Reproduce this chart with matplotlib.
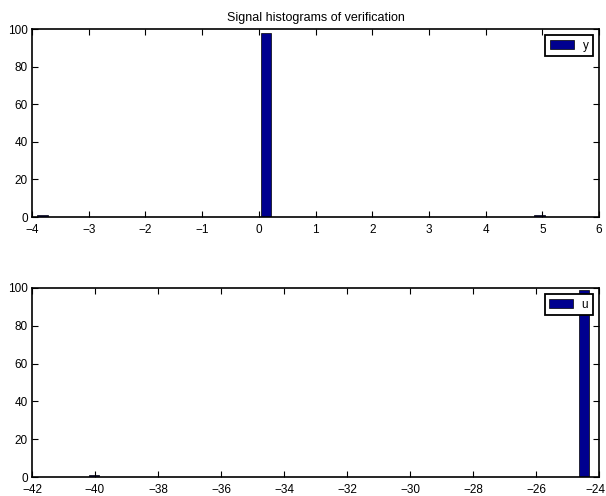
import matplotlib
matplotlib.use("Agg")
import matplotlib.pyplot as plt
import matplotlib.transforms as mtransforms

# ---- data ----
y_bin_centers = [-3.815, 0.121, 4.95]
y_counts = [1, 98, 1]
y_bin_width = 0.179

u_bin_centers = [-40.02, -24.49]
u_counts = [1, 99]
u_bin_width = 0.317

y_xticks = [-4, -3, -2, -1, 0, 1, 2, 3, 4, 5, 6]
u_xticks = [-42, -40, -38, -36, -34, -32, -30, -28, -26, -24]
yticks = [0, 20, 40, 60, 80, 100]

title_text = "Signal histograms of verification"

plt.rcParams['font.family'] = ['Liberation Sans', 'DejaVu Sans']
plt.rcParams['axes.unicode_minus'] = True

W, H = 606, 496
fig = plt.figure(figsize=(W / 100, H / 100), dpi=100)

bar_color = '#00008F'
FS = 8.5


def style(ax, xlim, xticks):
    ax.set_xlim(*xlim)
    ax.set_ylim(0, 100)
    ax.set_xticks(xticks)
    ax.set_yticks(yticks)
    ax.tick_params(direction='in', length=4.5, width=0.8, top=True, right=True,
                   labelsize=FS, pad=5)
    ax.tick_params(axis='y', pad=3)
    for s in ax.spines.values():
        s.set_linewidth(1.2)


def legend(ax, label):
    leg = ax.legend([ax.patches[0]], [label], loc='upper right', fontsize=FS,
                    frameon=True, fancybox=False, framealpha=1,
                    handlelength=2.0, handleheight=0.85, handletextpad=0.75,
                    borderpad=0.4, borderaxespad=0.5)
    leg.get_frame().set_edgecolor('black')
    leg.get_frame().set_linewidth(1.3)


ax1 = fig.add_axes([32 / W, 1 - 217 / H, 567 / W, 188 / H])
ax1.bar(y_bin_centers, y_counts, width=y_bin_width, color=bar_color,
        edgecolor='black', linewidth=0.5, label='y')
style(ax1, (-4, 6), y_xticks)
ax1.set_title(title_text, fontsize=9, pad=6)
legend(ax1, 'y')

ax2 = fig.add_axes([32 / W, 1 - 477 / H, 567 / W, 189 / H])
ax2.bar(u_bin_centers, u_counts, width=u_bin_width, color=bar_color,
        edgecolor='black', linewidth=0.5, label='u')
style(ax2, (-42, -24), u_xticks)
legend(ax2, 'u')

# keep the last tick label of the lower axes inside the canvas
fig.canvas.draw()
last_label = ax2.get_xticklabels()[-1]
last_label.set_transform(last_label.get_transform() +
                         mtransforms.ScaledTranslation(-4 / 100, 0, fig.dpi_scale_trans))

fig.savefig('out.png', dpi=100)
